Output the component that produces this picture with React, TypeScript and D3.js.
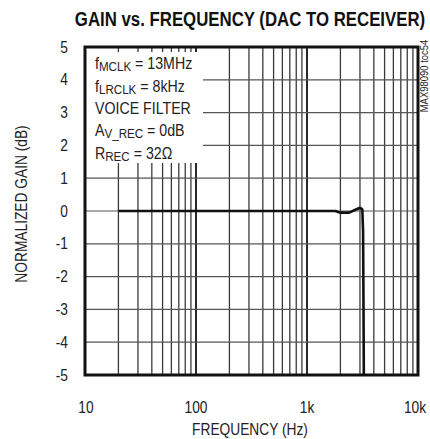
import React from "react";
import * as d3 from "d3";

const freqHz = [20, 50, 100, 200, 500, 1000, 1800, 2000, 2400, 2700, 3000, 3150, 3200, 3230, 3260];
const gainDb = [0, 0, 0, 0, 0, 0, 0, -0.05, -0.05, 0.03, 0.1, 0.05, -0.6, -3, -6];
const yTicks = [5, 4, 3, 2, 1, 0, -1, -2, -3, -4, -5];
const xTickValues = [10, 100, 1000, 10000];
const xTickLabels = ["10", "100", "1k", "10k"];

const W = 430, H = 439;
const L = 85, R = 418, T = 47, B = 375;
const FONT = "'Liberation Sans', Arial, sans-serif";
const SX = 0.86;

function Narrow({ x, y, children, anchor = "start", size = 15, weight = "normal", sx = SX, fill = "#222" }: any) {
  return (
    <g transform={`translate(${x},${y}) scale(${sx},1)`}>
      <text x={0} y={0} textAnchor={anchor} fontSize={size} fontWeight={weight} fill={fill}>
        {children}
      </text>
    </g>
  );
}

export default function App() {
  const x = d3.scaleLog().domain([10, 10000]).range([L, R]);
  const y = d3.scaleLinear().domain([-5, 5]).range([B, T]);
  const minor: number[] = [];
  [10, 100, 1000].forEach((d) => {
    for (let k = 2; k <= 9; k++) minor.push(d * k);
  });
  const pts: [number, number][] = freqHz.map((f, i) => [f, gainDb[i]]);
  const line = d3.line<[number, number]>().x((d) => x(d[0])).y((d) => y(d[1]));

  return (
    <svg width={W} height={H} style={{ position: "absolute", left: 0, top: 0, background: "#fff" }} fontFamily={FONT}>
      <defs>
        <clipPath id="plot">
          <rect x={L} y={T} width={R - L} height={B - T} />
        </clipPath>
      </defs>
      <Narrow x={250} y={26} anchor="middle" size={20.5} weight="bold" sx={0.82} fill="#111">
        GAIN vs. FREQUENCY (DAC TO RECEIVER)
      </Narrow>
      {/* grid */}
      {minor.map((f) => (
        <line key={"m" + f} x1={x(f)} x2={x(f)} y1={T} y2={B} stroke="#3a3a3a" strokeWidth={1.3} />
      ))}
      {xTickValues.slice(1, 3).map((f) => (
        <line key={"M" + f} x1={x(f)} x2={x(f)} y1={T} y2={B} stroke="#111" strokeWidth={1.8} />
      ))}
      {yTicks.map((v) => (
        <line key={"h" + v} x1={L} x2={R} y1={y(v)} y2={y(v)} stroke="#555" strokeWidth={1.2} />
      ))}
      {/* legend box */}
      <rect x={L} y={52} width={203 - L} height={163 - 52} fill="#fff" />
      <Narrow x={95} y={69} size={16.5}>f<tspan fontSize={13.5} dy={2}>MCLK</tspan><tspan dy={-2}> = 13MHz</tspan></Narrow>
      <Narrow x={95} y={92} size={16.5}>f<tspan fontSize={13.5} dy={2}>LRCLK</tspan><tspan dy={-2}> = 8kHz</tspan></Narrow>
      <Narrow x={95} y={114} size={16.5}>VOICE FILTER</Narrow>
      <Narrow x={95} y={136} size={16.5}>A<tspan fontSize={13.5} dy={2}>V_REC</tspan><tspan dy={-2}> = 0dB</tspan></Narrow>
      <Narrow x={95} y={159} size={16.5}>R<tspan fontSize={13.5} dy={2}>REC</tspan><tspan dy={-2}> = 32Ω</tspan></Narrow>
      {/* curve */}
      <path d={line(pts) || ""} fill="none" stroke="#111" strokeWidth={2.6} clipPath="url(#plot)" strokeLinejoin="round" />
      {/* border */}
      <rect x={L} y={T} width={R - L} height={B - T} fill="none" stroke="#111" strokeWidth={3} />
      {/* y ticks */}
      {yTicks.map((v) => (
        <Narrow key={"yt" + v} x={68} y={y(v) + 5.5} anchor="end" size={16}>{v}</Narrow>
      ))}
      {xTickValues.map((f, i) => (
        <Narrow key={"xt" + f} x={x(f) + (i === 3 ? -3 : i === 0 ? 1 : 0)} y={413} anchor="middle" size={16}>{xTickLabels[i]}</Narrow>
      ))}
      <Narrow x={250} y={435} anchor="middle" size={16}>FREQUENCY (Hz)</Narrow>
      <g transform="translate(27,204) rotate(-90)">
        <Narrow x={0} y={0} anchor="middle" size={16}>NORMALIZED GAIN (dB)</Narrow>
      </g>
      <g transform="translate(428,76) rotate(-90)">
        <Narrow x={0} y={0} anchor="middle" size={11}>MAX98090 toc54</Narrow>
      </g>
    </svg>
  );
}
